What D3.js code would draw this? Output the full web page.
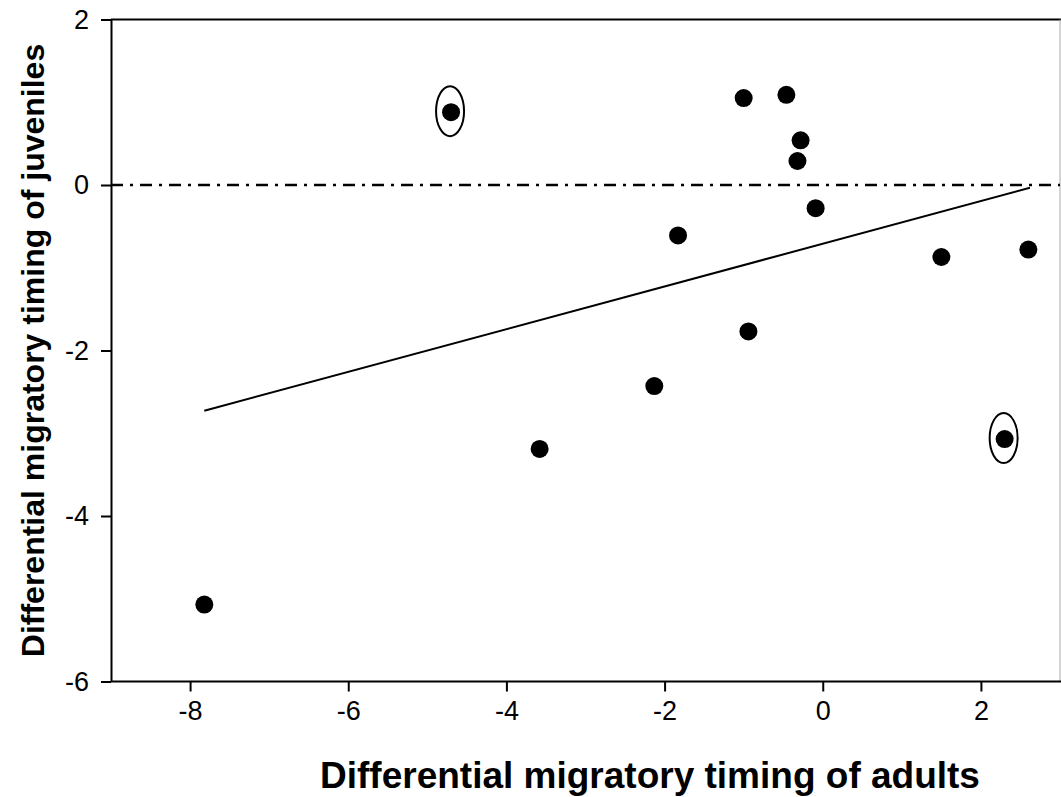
<!DOCTYPE html>
<html>
<head>
<meta charset="utf-8">
<script src="https://cdn.jsdelivr.net/npm/d3@7"></script>
<style>
  html, body { margin: 0; padding: 0; background: #fff; }
  svg { display: block; }
</style>
</head>
<body>
<svg id="chart" width="1061" height="797"></svg>
<script>
// Differential migratory timing: adults (x) vs juveniles (y)
const adultTiming    = [-7.82, -4.70, -3.58, -2.13, -1.83, -1.00, -0.94, -0.46, -0.28, -0.32, -0.09, 1.50, 2.30, 2.60];
const juvenileTiming = [-5.07,  0.88, -3.19, -2.43, -0.61,  1.05, -1.77,  1.09,  0.54,  0.29, -0.28, -0.87, -3.07, -0.78];
// indices of the points drawn with an outlier ring
const ringed = [1, 12];

// fitted regression line endpoints (x values) and its coefficients
const fitX = [-7.82, 2.62];
const fitSlope = 0.258;
const fitIntercept = -0.71;

const xTicks = [-8, -6, -4, -2, 0, 2];
const yTicks = [-6, -4, -2, 0, 2];
const xDomain = [-9, 3];
const yDomain = [-6, 2];

const xTitle = "Differential migratory timing of adults";
const yTitle = "Differential migratory timing of juveniles";

const svg = d3.select("#chart");
const m = { left: 111, right: 1060, top: 19.5, bottom: 681.5 };

const x = d3.scaleLinear().domain(xDomain).range([m.left, m.right]);
const y = d3.scaleLinear().domain(yDomain).range([m.bottom, m.top]);

const font = "'Liberation Sans', Arial, sans-serif";

// frame: top and right edges
svg.append("line")
  .attr("x1", m.left).attr("x2", m.right + 1)
  .attr("y1", m.top).attr("y2", m.top)
  .attr("stroke", "#000").attr("stroke-width", 2);
svg.append("line")
  .attr("x1", m.right).attr("x2", m.right)
  .attr("y1", m.top).attr("y2", m.bottom)
  .attr("stroke", "#aaa").attr("stroke-width", 1);

const fmt = d => d3.format("d")(d).replace("−", "-");

// x axis
const xAxis = svg.append("g")
  .attr("transform", `translate(0,${m.bottom})`)
  .call(d3.axisBottom(x).tickValues(xTicks).tickSize(10).tickPadding(9).tickSizeOuter(0).tickFormat(fmt));
xAxis.select(".domain").attr("stroke-width", 2).attr("d", `M${m.left},0H${m.right + 1}`);
xAxis.selectAll(".tick line").attr("stroke-width", 2);
xAxis.selectAll(".tick text")
  .attr("font-family", font).attr("font-size", 27).attr("fill", "#000");

// y axis
const yAxis = svg.append("g")
  .attr("transform", `translate(${m.left},0)`)
  .call(d3.axisLeft(y).tickValues(yTicks).tickSize(10).tickPadding(12).tickSizeOuter(0).tickFormat(fmt));
yAxis.select(".domain").attr("stroke-width", 2);
yAxis.selectAll(".tick line").attr("stroke-width", 2);
yAxis.selectAll(".tick text")
  .attr("font-family", font).attr("font-size", 27).attr("fill", "#000");

// zero reference line (dash-dot)
svg.append("line")
  .attr("x1", m.left).attr("x2", m.right)
  .attr("y1", y(0)).attr("y2", y(0))
  .attr("stroke", "#000").attr("stroke-width", 2.5)
  .attr("stroke-dasharray", "12,7,3,7");

// regression line
const line = d3.line().x(d => x(d)).y(d => y(fitIntercept + fitSlope * d));
svg.append("path")
  .attr("d", line(fitX))
  .attr("fill", "none").attr("stroke", "#000").attr("stroke-width", 2);

// data points
const pts = adultTiming.map((a, i) => ({ a, j: juvenileTiming[i], i }));
svg.append("g").selectAll("circle")
  .data(pts).join("circle")
  .attr("cx", d => x(d.a)).attr("cy", d => y(d.j))
  .attr("r", 9).attr("fill", "#000");

// outlier rings
svg.append("g").selectAll("ellipse")
  .data(pts.filter(d => ringed.includes(d.i))).join("ellipse")
  .attr("cx", d => x(d.a) - 1).attr("cy", d => y(d.j) - 1)
  .attr("rx", 14).attr("ry", 25)
  .attr("fill", "none").attr("stroke", "#000").attr("stroke-width", 2);

// axis titles
svg.append("text")
  .attr("x", 650).attr("y", 788)
  .attr("text-anchor", "middle")
  .attr("font-family", font).attr("font-weight", "bold").attr("font-size", 37)
  .text(xTitle);
svg.append("text")
  .attr("transform", `translate(44,${(m.top + m.bottom) / 2}) rotate(-90)`)
  .attr("text-anchor", "middle")
  .attr("font-family", font).attr("font-weight", "bold").attr("font-size", 32)
  .text(yTitle);
</script>
</body>
</html>
